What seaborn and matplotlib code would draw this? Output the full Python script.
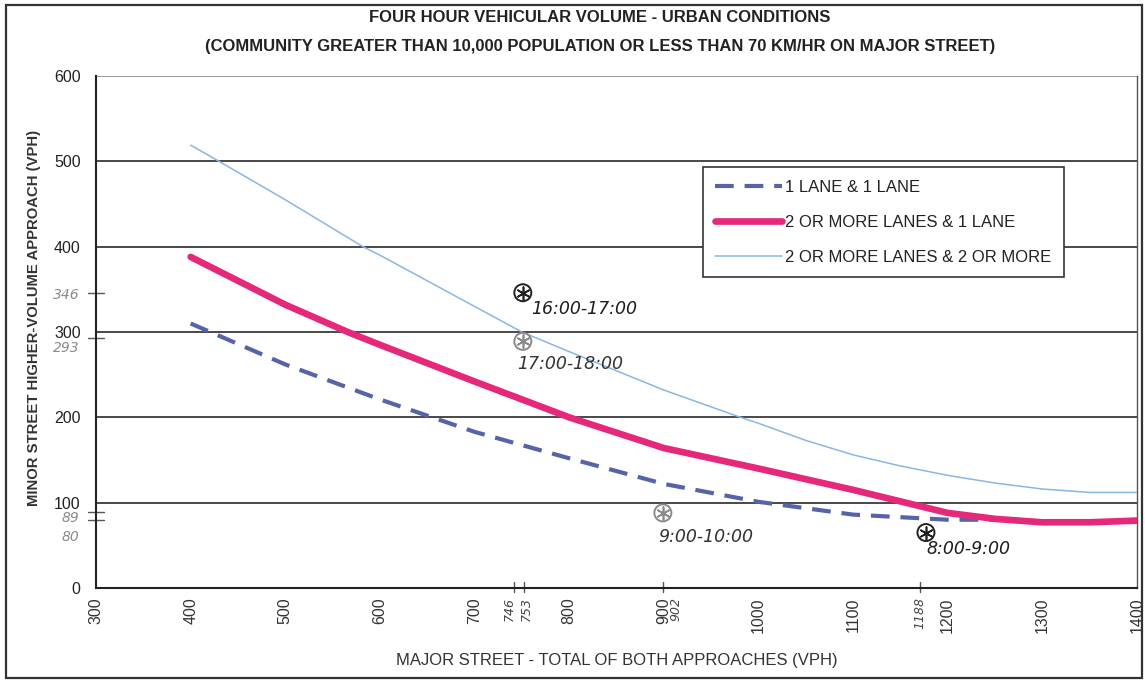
import matplotlib
matplotlib.use("Agg")
import matplotlib.pyplot as plt
import seaborn as sns
import pandas as pd

# ---------------- data ----------------
x_one_one = [400, 500, 600, 650, 700, 800, 900, 1000, 1100, 1200, 1250]
y_one_one = [310, 262, 221, 202, 183, 152, 122, 101, 86, 80, 80]

x_two_one = [400, 500, 566, 600, 700, 800, 900, 1000, 1100, 1200, 1250, 1300, 1350, 1400]
y_two_one = [388, 332, 300, 285, 242, 200, 164, 140, 115, 88, 81, 77, 77, 79]

x_two_two = [400, 430, 500, 582, 600, 700, 750, 800, 900, 981, 1000, 1050, 1100, 1150,
             1200, 1250, 1300, 1350, 1400]
y_two_two = [519, 500, 455, 400, 390, 330, 300, 277, 232, 200, 193, 173, 156, 143,
             132, 123, 116, 112, 112]

series_labels = ["1 LANE & 1 LANE", "2 OR MORE LANES & 1 LANE", "2 OR MORE LANES & 2 OR MORE"]

x_ticks = [300, 400, 500, 600, 700, 800, 900, 1000, 1100, 1200, 1300, 1400]
y_ticks = [0, 100, 200, 300, 400, 500, 600]

# hand-written annotations (marker positions as drawn, and their labels)
note_x = [751, 751, 899, 1177]
note_y = [346, 289, 88, 65]
note_text = ["16:00-17:00", "17:00-18:00", "9:00-10:00", "8:00-9:00"]
note_y_ticks = [346, 293, 89, 80]
note_y_labels = ["346", "293", "89", "80"]
note_x_ticks = [742, 752, 899, 1171]
note_x_labels = ["746", "753", "902", "1188"]

title_lines = ["FOUR HOUR VEHICULAR VOLUME - URBAN CONDITIONS",
               "(COMMUNITY GREATER THAN 10,000 POPULATION OR LESS THAN 70 KM/HR ON MAJOR STREET)"]
x_label = "MAJOR STREET - TOTAL OF BOTH APPROACHES (VPH)"
y_label = "MINOR STREET HIGHER-VOLUME APPROACH (VPH)"

# ---------------- style ----------------
sns.set_style("white")
plt.rcParams["font.family"] = ["Liberation Sans", "DejaVu Sans"]
HAND = ["DejaVu Sans"]

c_dash = "#5763a8"
c_pink = "#e5287a"
c_light = "#8ab6e4"
c_hand = "#222222"
c_gray = "#8a8a8a"

fig = plt.figure(figsize=(11.45, 6.81), dpi=100)
ax = fig.add_axes([96 / 1145, 1 - 588 / 681, (1137 - 96) / 1145, (588 - 76) / 681])

df1 = pd.DataFrame({"x": x_one_one, "y": y_one_one})
df2 = pd.DataFrame({"x": x_two_one, "y": y_two_one})
df3 = pd.DataFrame({"x": x_two_two, "y": y_two_two})

for yv in y_ticks[1:]:
    ax.axhline(yv, color="#2a2a2a" if yv < 600 else "#8a8a8a", lw=1.2, zorder=1)

sns.lineplot(data=df1, x="x", y="y", ax=ax, color=c_dash, lw=3.0, label=series_labels[0],
             zorder=3)
ax.lines[-1].set_dashes((4.5, 2.6))
sns.lineplot(data=df2, x="x", y="y", ax=ax, color=c_pink, lw=4.8, label=series_labels[1],
             zorder=3)
sns.lineplot(data=df3, x="x", y="y", ax=ax, color=c_light, lw=1.1, label=series_labels[2],
             zorder=3)

ax.set_xlim(300, 1400)
ax.set_ylim(0, 600)
ax.set_xticks(x_ticks)
ax.set_yticks(y_ticks)
ax.set_xticklabels([str(v) for v in x_ticks], rotation=90, fontsize=11.5, color="#333333")
ax.set_yticklabels([str(v) for v in y_ticks], fontsize=11.5, color="#222222")
ax.tick_params(axis="y", direction="out", length=4, width=1, color="#222222", pad=7)
ax.tick_params(axis="x", direction="out", length=4, width=1, color="#222222", pad=3)

ax.spines["top"].set_visible(False)
ax.spines["left"].set_color("#222222")
ax.spines["bottom"].set_color("#222222")
ax.spines["right"].set_color("#555555")
for s in ["left", "bottom"]:
    ax.spines[s].set_linewidth(1.5)
ax.spines["right"].set_linewidth(1.0)

ax.set_xlabel(x_label, fontsize=12, color="#333333", labelpad=14)
ax.set_ylabel(y_label, fontsize=10.7, color="#333333", fontweight="bold")
ax.yaxis.set_label_coords(-0.053, 0.527)

# hand-written extra ticks on the y axis
ytr = ax.get_yaxis_transform()
note_y_text_pos = [343, 281, 82, 60]
for yv, lab, yp in zip(note_y_ticks, note_y_labels, note_y_text_pos):
    ax.plot([-0.008, 0.008], [yv, yv], transform=ytr, color="#555555", lw=1.0, clip_on=False)
    ax.text(-0.016, yp, lab, transform=ytr, ha="right", va="center", fontsize=10,
            style="italic", color=c_gray, family=HAND)

# hand-written extra ticks on the x axis
xtr = ax.get_xaxis_transform()
note_x_text_pos = [737, 755, 913, 1171]
for xv, lab, xp in zip(note_x_ticks, note_x_labels, note_x_text_pos):
    ax.plot([xv, xv], [-0.008, 0.012], transform=xtr, color="#555555", lw=1.0, clip_on=False)
    ax.text(xp, -0.018, lab, transform=xtr, ha="center", va="top", rotation=90, fontsize=9,
            style="italic", color="#444444", family=HAND)

# hand-drawn markers and notes
note_colors = [c_hand, c_gray, c_gray, c_hand]
note_offsets = [(6, -12), (-4, -16), (-3, -17), (0, -12)]
for xv, yv, t, c, (dx, dy) in zip(note_x, note_y, note_text, note_colors, note_offsets):
    ax.scatter([xv], [yv], s=150, facecolors="none", edgecolors=c, linewidths=1.4, zorder=5)
    ax.scatter([xv], [yv], s=85, marker=(6, 2, 0), color=c, linewidths=1.2, zorder=5)
    ax.annotate(t, (xv, yv), xytext=(dx, dy), textcoords="offset points", ha="left",
                va="center", fontsize=12.5, style="italic",
                color="#1e1e1e" if c == c_hand else "#333333", family=HAND, zorder=5)

# legend
leg = ax.legend(loc="upper left", bbox_to_anchor=(0.583, 0.822), frameon=True, fancybox=False,
                framealpha=1.0, edgecolor="#333333", fontsize=12, handlelength=4.0,
                handletextpad=0.2, labelspacing=1.2, borderpad=0.75, borderaxespad=0)
leg.get_frame().set_linewidth(1.2)
for t in leg.get_texts():
    t.set_color("#222222")

# title
fig.text(0.524, 1 - 18 / 681, title_lines[0], ha="center", va="center", fontsize=12,
         fontweight="bold", color="#222222")
fig.text(0.524, 1 - 47 / 681, title_lines[1], ha="center", va="center", fontsize=12,
         fontweight="bold", color="#222222")

# outer border
fig.patches.append(plt.Rectangle((6 / 1145, 3 / 681), 1 - 9 / 1145, 1 - 8 / 681,
                                 transform=fig.transFigure, fill=False, edgecolor="#333333",
                                 lw=1.6))

fig.savefig("out.png", dpi=100)
